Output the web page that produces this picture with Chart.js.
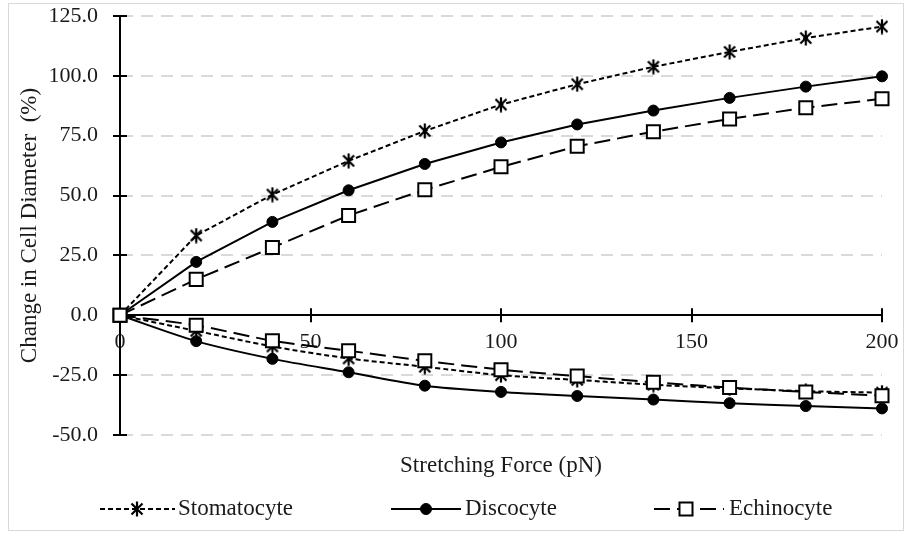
<!DOCTYPE html>
<html><head><meta charset="utf-8">
<script src="https://cdn.jsdelivr.net/npm/chart.js@4.4.1/dist/chart.umd.min.js"></script>
<style>html,body{margin:0;padding:0;background:#fff}canvas{display:block}</style>
</head><body>
<canvas id="c" width="906" height="533"></canvas>
<script>
// ---- data ----
const forces = [0, 20, 40, 60, 80, 100, 120, 140, 160, 180, 200];
const stomatocyteUpper = [0, 33.3, 50.4, 64.5, 77.0, 88.0, 96.5, 103.8, 110.0, 115.8, 120.6];
const discocyteUpper   = [0, 22.3, 39.0, 52.2, 63.2, 72.2, 79.7, 85.5, 90.8, 95.5, 99.8];
const echinocyteUpper  = [0, 15.0, 28.3, 41.7, 52.4, 62.0, 70.6, 76.7, 82.0, 86.7, 90.4];
const stomatocyteLower = [0, -6.5, -13.0, -18.0, -21.5, -25.0, -27.0, -29.0, -30.5, -31.7, -32.3];
const discocyteLower   = [0, -10.8, -18.2, -23.8, -29.4, -32.0, -33.7, -35.2, -36.7, -37.9, -38.9];
const echinocyteLower  = [0, -4.2, -10.6, -14.8, -19.0, -22.7, -25.4, -28.0, -30.2, -32.0, -33.6];
const seriesNames = ['Stomatocyte', 'Discocyte', 'Echinocyte'];
const xTickValues = [0, 50, 100, 150, 200];
const yTickValues = [-50, -25, 0, 25, 50, 75, 100, 125];
const xAxisTitle = 'Stretching Force (pN)';
const yAxisTitle = 'Change in Cell Diameter  (%)';

// ---- styles ----
const FONT = '"Liberation Serif", "Times New Roman", serif';
const TEXT = '#1a1a1a';

function makeStar() {
  const c = document.createElement('canvas');
  c.width = 16; c.height = 16;
  const g = c.getContext('2d');
  g.strokeStyle = '#000'; g.lineWidth = 2.2; g.lineCap = 'butt';
  g.beginPath();
  g.moveTo(2.5, 2.5); g.lineTo(13.5, 13.5);
  g.moveTo(13.5, 2.5); g.lineTo(2.5, 13.5);
  g.moveTo(8, 0.5); g.lineTo(8, 15.5);
  g.stroke();
  return c;
}
const starImg = makeStar();

const styles = [
  { dash: [5, 3], pointStyle: starImg, radius: 7, bg: '#000', pbw: 0, order: 2 },
  { dash: [], pointStyle: 'circle', radius: 5.5, bg: '#000', pbw: 1, order: 1 },
  { dash: [16, 7], pointStyle: 'rect', radius: 9.2, bg: '#fff', pbw: 2, order: 0 }
];

function pts(arr) { return forces.map((f, i) => ({ x: f, y: arr[i] })); }
function ds(si, arr, tension) {
  const s = styles[si];
  return {
    label: seriesNames[si],
    data: pts(arr),
    borderColor: '#000',
    borderWidth: 2,
    borderDash: s.dash,
    pointStyle: s.pointStyle,
    pointRadius: s.radius,
    pointBackgroundColor: s.bg,
    pointBorderColor: '#000',
    pointBorderWidth: s.pbw,
    tension: tension,
    fill: false,
    clip: false,
    order: s.order
  };
}

const datasets = [
  ds(0, stomatocyteUpper, 0), ds(0, stomatocyteLower, 0.3),
  ds(1, discocyteUpper, 0), ds(1, discocyteLower, 0.3),
  ds(2, echinocyteUpper, 0), ds(2, echinocyteLower, 0.3)
];

const frame = {
  id: 'frame',
  beforeDraw(chart) {
    const ctx = chart.ctx;
    ctx.save();
    ctx.fillStyle = '#fff';
    ctx.fillRect(0, 0, chart.width, chart.height);
    ctx.strokeStyle = '#d9d9d9'; ctx.lineWidth = 1;
    ctx.strokeRect(8.5, 3.5, 895, 527);
    ctx.restore();
  }
};

const crossTicks = {
  id: 'crossTicks',
  beforeDatasetsDraw(chart) {
    const { ctx, scales } = chart;
    const xs = scales.x, ys = scales.y;
    const ax = chart.chartArea.left;
    const ay = ys.getPixelForValue(0);
    ctx.save();
    ctx.strokeStyle = '#000'; ctx.lineWidth = 2;
    ctx.beginPath();
    ys.ticks.forEach((t, i) => {
      const py = Math.round(ys.getPixelForTick(i));
      ctx.moveTo(ax - 7, py); ctx.lineTo(ax + 7, py);
    });
    xs.ticks.forEach((t, i) => {
      const px = Math.round(xs.getPixelForTick(i));
      ctx.moveTo(px, ay - 7); ctx.lineTo(px, ay + 7);
    });
    ctx.stroke();
    ctx.restore();
  }
};

const legendLayout = [
  { x1: 100, x2: 175, mx: 137, tx: 178 },
  { x1: 391, x2: 461, mx: 426, tx: 465 },
  { x1: 654, x2: 724, mx: 686, tx: 729 }
];
const customLegend = {
  id: 'customLegend',
  afterDraw(chart) {
    const ctx = chart.ctx;
    const y = 509;
    ctx.save();
    seriesNames.forEach((name, i) => {
      const L = legendLayout[i], s = styles[i];
      ctx.save();
      ctx.strokeStyle = '#000'; ctx.lineWidth = 2; ctx.setLineDash(s.dash);
      ctx.beginPath(); ctx.moveTo(L.x1, y); ctx.lineTo(L.x2, y); ctx.stroke();
      ctx.restore();
      ctx.save();
      ctx.fillStyle = s.bg; ctx.strokeStyle = '#000'; ctx.lineWidth = s.pbw;
      Chart.helpers.drawPoint(ctx, { pointStyle: s.pointStyle, radius: s.radius, borderWidth: s.pbw, rotation: 0 }, L.mx, y);
      ctx.restore();
      ctx.fillStyle = TEXT;
      ctx.font = '23px ' + FONT;
      ctx.textAlign = 'left'; ctx.textBaseline = 'middle';
      ctx.fillText(name, L.tx, y);
    });
    ctx.restore();
  }
};

new Chart(document.getElementById('c'), {
  type: 'line',
  data: { datasets },
  plugins: [frame, crossTicks, customLegend],
  options: {
    responsive: false,
    animation: false,
    devicePixelRatio: 1,
    layout: { padding: { top: 16, right: 24, left: 0, bottom: 0 } },
    plugins: { legend: { display: false }, tooltip: { enabled: false } },
    scales: {
      x: {
        type: 'linear',
        position: { y: 0 },
        min: 0, max: 200,
        afterBuildTicks(s) { s.ticks = xTickValues.map(v => ({ value: v })); },
        grid: { display: false, drawTicks: true, tickLength: 14 },
        border: { display: true, color: '#000', width: 2 },
        ticks: { color: TEXT, font: { family: FONT, size: 22 }, padding: 0, maxRotation: 0, autoSkip: false },
      },
      x2: {
        type: 'linear',
        position: 'bottom',
        grid: { display: false },
        border: { display: false },
        ticks: { display: false },
        title: { display: true, text: xAxisTitle, color: TEXT, font: { family: FONT, size: 23 }, padding: { top: 0, bottom: 53 } },
        afterFit(s) { s.height = 98; }
      },
      y: {
        type: 'linear',
        position: 'left',
        min: -50, max: 125,
        afterBuildTicks(s) { s.ticks = yTickValues.map(v => ({ value: v })); },
        afterFit(s) { s.width = 120; },
        grid: {
          drawTicks: true,
          tickLength: 22,
          tickColor: 'rgba(0,0,0,0)',
          lineWidth: 2,
          color: (c) => (c.tick && c.tick.value === 0) ? 'rgba(0,0,0,0)' : '#d9d9d9'
        },
        border: { display: true, color: '#000', width: 2, dash: [12, 8] },
        ticks: { color: TEXT, font: { family: FONT, size: 22 }, padding: 0, callback: (v) => Number(v).toFixed(1) },
        title: { display: true, text: yAxisTitle, color: TEXT, font: { family: FONT, size: 23 }, padding: { top: 16, bottom: 0 } }
      }
    }
  }
});
</script>
</body></html>
